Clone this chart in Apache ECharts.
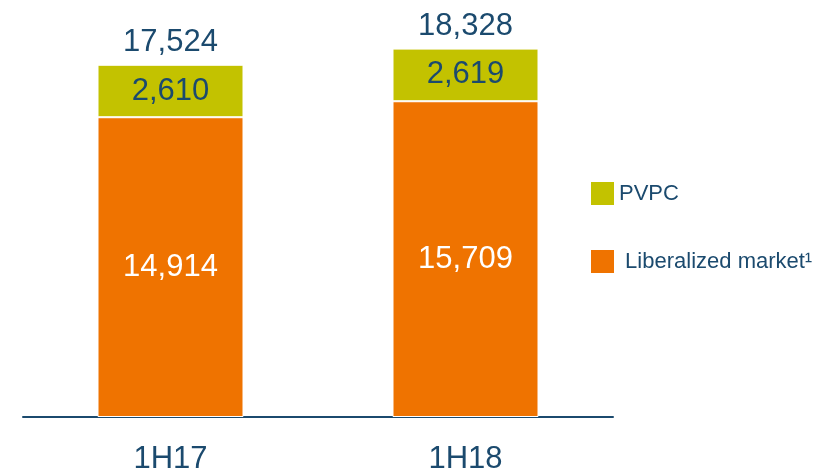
<!DOCTYPE html>
<html>
<head>
<meta charset="utf-8">
<script src="https://cdn.jsdelivr.net/npm/echarts@6/dist/echarts.min.js"></script>
<style>
  html, body { margin: 0; padding: 0; background: #fff; }
  #chart { width: 839px; height: 468px; }
</style>
</head>
<body>
<div id="chart"></div>
<script>
// periods on the x axis
const categories = ["1H17", "1H18"];
// stacked values
const liberalized = [14914, 15709];
const pvpc = [2610, 2619];
// totals shown above each stack
const totals = [17524, 18328];

const navy = "#1B4A6E";
const fmt = (v) => v.toLocaleString("en-US");

let chart = echarts.init(document.getElementById("chart"));
chart.setOption({
  animation: false,
  textStyle: { fontFamily: "Liberation Sans, Arial, sans-serif" },
  grid: { left: 23, right: 226, top: 15, bottom: 51, outerBoundsMode: "none", containLabel: false },
  legend: {
    orient: "vertical",
    left: 591,
    top: 182,
    padding: 0,
    itemWidth: 23,
    itemHeight: 23,
    itemGap: 45,
    icon: "rect",
    itemStyle: { borderWidth: 0 },
    data: ["PVPC", "Liberalized market¹"],
    textStyle: { color: navy, fontSize: 22 },
    formatter: function (name) {
      return name === "PVPC" ? name : " " + name;
    },
  },
  xAxis: {
    type: "category",
    data: categories,
    axisLine: { lineStyle: { color: navy, width: 2 } },
    axisTick: { show: false },
    axisLabel: { color: navy, fontSize: 31, margin: 27 },
  },
  yAxis: {
    type: "value",
    min: 0,
    max: 20000,
    show: false,
    splitLine: { show: false },
  },
  series: [
    {
      name: "Liberalized market¹",
      type: "bar",
      stack: "total",
      barWidth: 146,
      data: liberalized,
      itemStyle: { color: "#EF7300", borderColor: "#fff", borderWidth: 1 },
      label: {
        show: true,
        position: "inside",
        color: "#fff",
        fontSize: 31,
        formatter: (p) => fmt(p.value),
      },
    },
    {
      name: "PVPC",
      type: "bar",
      stack: "total",
      barWidth: 146,
      data: pvpc,
      itemStyle: { color: "#C3C200", borderColor: "#fff", borderWidth: 1 },
      label: {
        show: true,
        position: "inside",
        color: navy,
        fontSize: 31,
        formatter: (p) => fmt(p.value),
      },
    },
    {
      // invisible helper carrying the total labels
      name: "total",
      type: "bar",
      stack: "total",
      barWidth: 146,
      data: totals.map(() => 0),
      itemStyle: { color: "transparent" },
      label: {
        show: true,
        position: "top",
        distance: 7,
        color: navy,
        fontSize: 31,
        formatter: (p) => fmt(totals[p.dataIndex]),
      },
      silent: true,
    },
  ],
});
</script>
</body>
</html>
